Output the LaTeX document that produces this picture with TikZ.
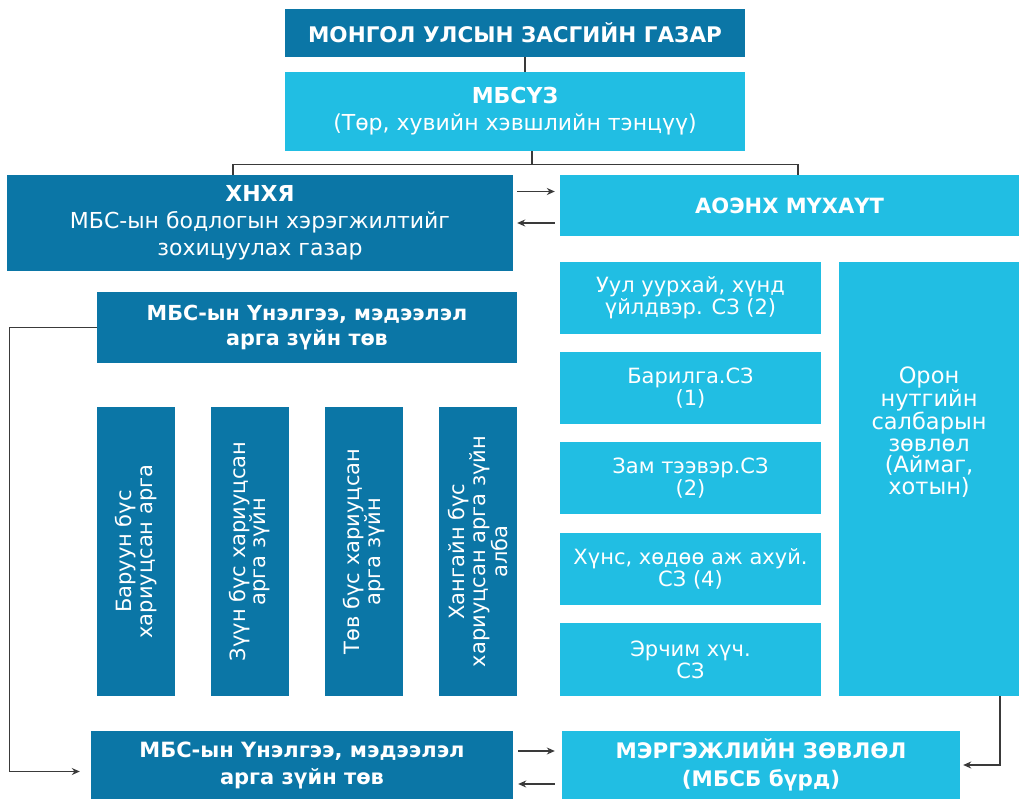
\documentclass[tikz,border=0pt]{standalone}
\usepackage{fontspec}
\setmainfont{DejaVu Sans}
\usetikzlibrary{arrows.meta}
\definecolor{darkblue}{HTML}{0B76A6}
\definecolor{lightblue}{HTML}{21BEE3}
\definecolor{linegray}{HTML}{3A3A3A}

\begin{document}
\begin{tikzpicture}[x=1pt,y=-1pt,
  box/.style={rectangle,text=white,align=center,inner sep=0pt},
  dark/.style={box,fill=darkblue},
  light/.style={box,fill=lightblue},
  head/.style={font=\bfseries\fontsize{21.5}{27}\selectfont},
  body/.style={font=\fontsize{22}{27}\selectfont},
  tight/.style={font=\fontsize{21}{22}\selectfont},
  upright/.style={rotate=90,minimum width=289,minimum height=78,font=\fontsize{21}{20.5}\selectfont},
  link/.style={draw=linegray,line width=1.2pt},
  arr/.style={link,-{Stealth[length=8pt,width=7pt]}}]
\useasboundingbox (0,0) rectangle (1019,799);

% top of the chart
\node [dark,head,minimum width=460,minimum height=48] (gov) at (515,33) {МОНГОЛ УЛСЫН ЗАСГИЙН ГАЗАР};
\node [light,body,minimum width=460,minimum height=79] (mbsuz) at (515,111.5)
  {\textbf{МБСҮЗ}\\(Төр, хувийн хэвшлийн тэнцүү)};
\node [dark,body,minimum width=506,minimum height=96] (hnhya) at (260,223)
  {\textbf{ХНХЯ}\\МБС-ын бодлогын хэрэгжилтийг\\зохицуулах газар};
\node [light,font=\bfseries\fontsize{21}{27}\selectfont,minimum width=459,minimum height=61] (aoenh) at (789.5,205.5) {АОЭНХ МҮХАҮТ};

% left column
\node [dark,font=\bfseries\fontsize{20.7}{25}\selectfont,minimum width=420,minimum height=71] (unel) at (307,327.5)
  {МБС-ын Үнэлгээ, мэдээлэл\\арга зүйн төв};
\node [dark,upright] (west) at (136,551.5) {Баруун бүс\\хариуцсан арга};
\node [dark,upright] (east) at (249.5,551.5) {Зүүн бүс хариуцсан\\арга зүйн};
\node [dark,upright] (cent) at (364,551.5) {Төв бүс хариуцсан\\арга зүйн};
\node [dark,upright] (hang) at (478,551.5) {Хангайн бүс\\хариуцсан арга зүйн\\алба};

% right column
\node [light,tight,minimum width=261,minimum height=72] (mine) at (690.5,298) {Уул уурхай, хүнд\\үйлдвэр. СЗ (2)};
\node [light,tight,minimum width=261,minimum height=72] (build) at (690.5,388) {Барилга.СЗ\\(1)};
\node [light,tight,minimum width=261,minimum height=72] (road) at (690.5,478) {Зам тээвэр.СЗ\\(2)};
\node [light,tight,minimum width=261,minimum height=72] (food) at (690.5,569) {Хүнс, хөдөө аж ахуй.\\СЗ (4)};
\node [light,tight,minimum width=261,minimum height=73] (energy) at (690.5,659.5) {Эрчим хүч.\\СЗ};
\node [light,minimum width=180,minimum height=434] (local) at (929,479) {};
\node [text=white,align=center,font=\fontsize{22.5}{21.5}\selectfont] (localtxt) at (local.center |- 0,432)
  {Орон\\нутгийн\\салбарын\\зөвлөл\\(Аймаг,\\хотын)};

% bottom row
\node [dark,font=\bfseries\fontsize{21}{27}\selectfont,minimum width=422,minimum height=68] (unel2) at (302,765)
  {МБС-ын Үнэлгээ, мэдээлэл\\арга зүйн төв};
\node [light,font=\bfseries\fontsize{21.4}{28}\selectfont,minimum width=398,minimum height=68] (expert) at (761,765)
  {МЭРГЭЖЛИЙН ЗӨВЛӨЛ\\(МБСБ бүрд)};

% connectors
\coordinate (bus) at (532,164.5);
\draw [link] ([xshift=10]gov.south) -- ([xshift=10]mbsuz.north);
\draw [link] ([xshift=17]mbsuz.south) -- (bus);
\draw [link] ([xshift=-27]hnhya.north) |- (bus) -| ([xshift=8.5]aoenh.north);
\coordinate (up1) at ([yshift=14]aoenh.west);
\coordinate (dn1) at ([yshift=-17.5]aoenh.west);
\draw [arr] (hnhya.east |- up1) ++(4,0) -- ([xshift=-5]up1);
\draw [arr] ([xshift=-5]dn1) -- ([xshift=4]hnhya.east |- dn1);
\draw [arr] (unel.west) -- ++(-87,0) |- ([xshift=-11,yshift=-6.5]unel2.west);
\draw [arr] ([xshift=71]local.south) |- ([xshift=3]expert.east);
\coordinate (up2) at ([yshift=14]expert.west);
\coordinate (dn2) at ([yshift=-19]expert.west);
\draw [arr] (unel2.east |- up2) ++(5,0) -- ([xshift=-7]up2);
\draw [arr] ([xshift=-7]dn2) -- ([xshift=5]unel2.east |- dn2);
\end{tikzpicture}
\end{document}
